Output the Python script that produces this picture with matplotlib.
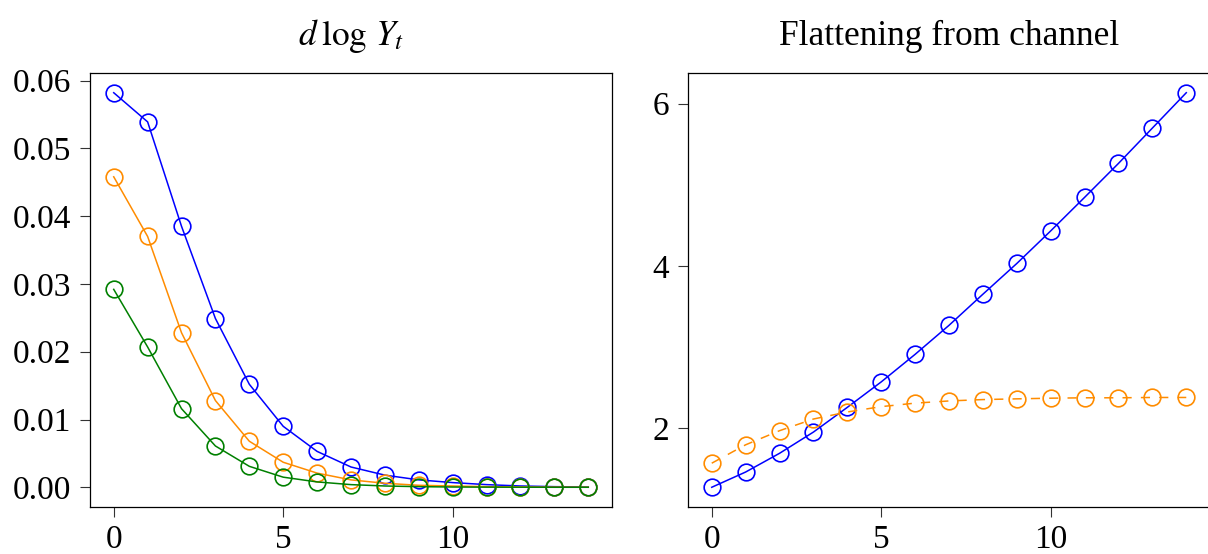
import matplotlib
matplotlib.use("Agg")
import matplotlib.pyplot as plt
import numpy as np

# horizon
t = np.arange(15)

# left panel: d log Y_t
dlogY_blue = [0.0582, 0.0539, 0.0385, 0.0249, 0.0152, 0.0090, 0.0053, 0.0030,
              0.0018, 0.0011, 0.0007, 0.0004, 0.0002, 0.0001, 0.00005]
dlogY_orange = [0.0458, 0.0370, 0.0228, 0.0128, 0.0068, 0.0037, 0.0021, 0.0011,
                0.0006, 0.0003, 0.0002, 0.0001, 0.00005, 0.00003, 0.00002]
dlogY_green = [0.0292, 0.0207, 0.0116, 0.0061, 0.0031, 0.0015, 0.0008, 0.0004,
               0.0002, 0.0001, 0.00005, 0.00003, 0.00002, 0.00001, 0.00001]

# right panel: flattening from channel
flat_blue = [1.267, 1.455, 1.686, 1.948, 2.253, 2.567, 2.907, 3.265,
             3.649, 4.028, 4.430, 4.844, 5.263, 5.699, 6.135]
flat_orange = [1.564, 1.791, 1.965, 2.109, 2.196, 2.262, 2.305, 2.332,
               2.349, 2.358, 2.366, 2.371, 2.371, 2.375, 2.375]

left_yticks = [0.00, 0.01, 0.02, 0.03, 0.04, 0.05, 0.06]
right_yticks = [2, 4, 6]
xticks = [0, 5, 10]

plt.rcParams['font.family'] = ['Liberation Serif', 'DejaVu Serif']
plt.rcParams['mathtext.fontset'] = 'stix'
plt.rcParams['font.size'] = 24

BLUE = '#0000ff'
ORANGE = '#ff8c00'
GREEN = '#008000'

W, H = 1208, 554
fig = plt.figure(figsize=(W / 100, H / 100), dpi=100)

def px_axes(x0, x1, y0, y1):
    return fig.add_axes([x0 / W, 1 - y1 / H, (x1 - x0) / W, (y1 - y0) / H])

ax1 = px_axes(90, 612, 73, 507)
ax2 = px_axes(688, 1210, 73, 507)

mk = dict(marker='o', markersize=12, markerfacecolor='none', markeredgewidth=1.2, linewidth=1.1)

ax1.plot(t, dlogY_blue, color=BLUE, **mk)
ax1.plot(t, dlogY_orange, color=ORANGE, **mk)
ax1.plot(t, dlogY_green, color=GREEN, **mk)
ax1.set_yticks(left_yticks)
ax1.set_yticklabels([f"{v:.2f}" for v in left_yticks])
ax1.set_title(r"$d\:\log\,Y_t$", pad=20, fontsize=25.5)

ax2.plot(t, flat_blue, color=BLUE, **mk)
ax2.plot(t, flat_orange, color=ORANGE, linestyle=(0, (6, 6)), **mk)
ax2.set_yticks(right_yticks)
ax2.set_title("Flattening from channel", pad=20, fontsize=25.5)

for ax in (ax1, ax2):
    ax.set_xticks(xticks)
    ax.tick_params(direction='out', length=7.5, width=0.8, color='#333333')
    ax.tick_params(axis='x', pad=5)
    ax.tick_params(axis='y', pad=6)
    for s in ax.spines.values():
        s.set_linewidth(0.9)
        s.set_color('black')

fig.savefig("out.png", dpi=100)
